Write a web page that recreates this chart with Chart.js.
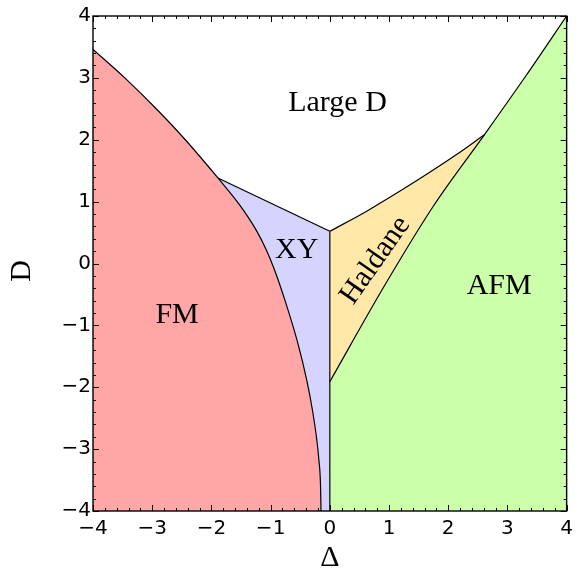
<!DOCTYPE html>
<html><head><meta charset="utf-8">
<script src="https://cdn.jsdelivr.net/npm/chart.js@4.4.0/dist/chart.umd.min.js"></script>
<style>html,body{margin:0;padding:0;background:#fff}#wrap{width:579px;height:569px}</style>
</head><body><div id="wrap"><canvas id="c" width="579" height="569"></canvas></div>
<script>
// ---- data ----
const xTicks = [-4, -3, -2, -1, 0, 1, 2, 3, 4];
const yTicks = [-4, -3, -2, -1, 0, 1, 2, 3, 4];

// FM / (Large D, XY) boundary, from the left edge down to the bottom edge
const fmBoundaryDelta = [-4, -3.45, -2.92, -2.46, -1.89, -1.524, -1.246, -1.072, -0.946, -0.759, -0.546, -0.389, -0.293, -0.219, -0.184, -0.157, -0.149];
const fmBoundaryD     = [3.46, 2.987, 2.489, 2.02, 1.382, 0.947, 0.543, 0.219, -0.073, -0.591, -1.266, -1.887, -2.372, -2.858, -3.182, -3.587, -4];

// XY / Large D boundary
const xyTopDelta = [-1.89, 0];
const xyTopD     = [1.382, 0.52];

// Delta = 0 line (XY | Haldane / AFM)
const axisLineDelta = [0, 0];
const axisLineD     = [0.52, -4];

// Haldane / Large D boundary
const haldaneTopDelta = [0, 0.63, 1.47, 2.14, 2.61];
const haldaneTopD     = [0.52, 0.85, 1.34, 1.76, 2.08];

// Haldane / AFM and AFM / Large D boundary
const afmBoundaryDelta = [0, 0.91, 1.75, 2.61, 3.31, 4];
const afmBoundaryD     = [-1.91, -0.38, 0.93, 2.08, 3.03, 4];

// phase labels
const phaseNames = ['Large D', 'XY', 'FM', 'Haldane', 'AFM'];
const phaseLabelDelta = [0.13, -0.56, -2.58, 0.77, 2.86];
const phaseLabelD     = [2.6, 0.21, -0.83, 0.05, -0.36];

// ---- build ----
const pts = (xs, ys) => xs.map((x, i) => ({x: x, y: ys[i]}));

const areaSet = (data, color, order, smooth) => ({
  data: data, backgroundColor: color, borderWidth: 0, pointRadius: 0,
  fill: 'start', order: order,
  cubicInterpolationMode: smooth ? 'monotone' : 'default', tension: 0
});
const lineSet = (data, smooth) => ({
  data: data, borderColor: '#000', borderWidth: 1.2, pointRadius: 0,
  fill: false, order: 1,
  cubicInterpolationMode: smooth ? 'monotone' : 'default', tension: 0
});

const frameTicks = {
  id: 'frameTicks',
  afterDatasetsDraw(chart) {
    const {ctx, chartArea: a, scales: {x, y}} = chart;
    ctx.save();
    ctx.strokeStyle = '#000';
    ctx.lineWidth = 1;
    ctx.beginPath();
    for (let i = -20; i <= 20; i++) {
      const v = i / 5;
      const len = (i % 5 === 0) ? 6 : 3;
      const px = Math.round(x.getPixelForValue(v)) + 0.5;
      ctx.moveTo(px, a.bottom); ctx.lineTo(px, a.bottom - len);
      ctx.moveTo(px, a.top); ctx.lineTo(px, a.top + len);
      const py = Math.round(y.getPixelForValue(v)) + 0.5;
      ctx.moveTo(a.left, py); ctx.lineTo(a.left + len, py);
      ctx.moveTo(a.right, py); ctx.lineTo(a.right - len, py);
    }
    ctx.stroke();
    ctx.lineWidth = 1.4;
    ctx.strokeRect(a.left, a.top, a.right - a.left, a.bottom - a.top);
    // phase labels
    ctx.fillStyle = '#000';
    ctx.font = '30px "Liberation Serif", "DejaVu Serif", serif';
    ctx.textAlign = 'center';
    ctx.textBaseline = 'middle';
    phaseNames.forEach((name, i) => {
      const px = x.getPixelForValue(phaseLabelDelta[i]);
      const py = y.getPixelForValue(phaseLabelD[i]);
      ctx.save();
      ctx.translate(px, py);
      if (name === 'Haldane') ctx.rotate(-55 * Math.PI / 180);
      ctx.fillText(name, 0, 0);
      ctx.restore();
    });
    ctx.restore();
  }
};

const fmt = v => (v < 0 ? '\u2212' + Math.abs(v) : String(v));

new Chart(document.getElementById('c'), {
  type: 'line',
  data: {
    datasets: [
      lineSet(pts(fmBoundaryDelta, fmBoundaryD), true),
      lineSet(pts(xyTopDelta, xyTopD), false),
      lineSet(pts(axisLineDelta, axisLineD), false),
      lineSet(pts(haldaneTopDelta, haldaneTopD), true),
      lineSet(pts(afmBoundaryDelta, afmBoundaryD), true),
      areaSet(pts(fmBoundaryDelta, fmBoundaryD), '#FFA6A6', 5, true),
      areaSet(pts(afmBoundaryDelta, afmBoundaryD), '#CCFFAA', 5, true),
      areaSet(pts(xyTopDelta, xyTopD), '#D4D4FF', 6, false),
      areaSet(pts(haldaneTopDelta, haldaneTopD), '#FFE8A8', 6, true)
    ]
  },
  options: {
    responsive: false,
    animation: false,
    devicePixelRatio: 1,
    layout: {padding: {top: 16, right: 8, left: 0, bottom: 0}},
    plugins: {legend: {display: false}, tooltip: {enabled: false}},
    scales: {
      x: {
        type: 'linear', min: xTicks[0], max: xTicks[xTicks.length - 1],
        afterBuildTicks: s => { s.ticks = xTicks.map(v => ({value: v})); },
        afterFit: s => { s.height = 58; },
        grid: {display: false, drawTicks: false},
        border: {display: false},
        ticks: {font: {family: 'DejaVu Sans', size: 20}, color: '#000', padding: 6,
                maxRotation: 0, autoSkip: false, callback: v => fmt(v)},
        title: {display: true, text: '\u0394', color: '#000',
                font: {family: 'Liberation Serif', size: 30, lineHeight: 0.75},
                padding: {top: 0, bottom: 0}}
      },
      y: {
        type: 'linear', min: yTicks[0], max: yTicks[yTicks.length - 1],
        afterBuildTicks: s => { s.ticks = yTicks.map(v => ({value: v})); },
        afterFit: s => { s.width = 93; },
        grid: {display: false, drawTicks: false},
        border: {display: false},
        ticks: {font: {family: 'DejaVu Sans', size: 20}, color: '#000', padding: 2,
                autoSkip: false, callback: v => fmt(v)},
        title: {display: true, text: 'D\u2002', color: '#000',
                font: {family: 'Liberation Serif', size: 30, lineHeight: 1.2},
                padding: {top: 4, bottom: 0}}
      }
    }
  },
  plugins: [frameTicks]
});
</script>
</body></html>
